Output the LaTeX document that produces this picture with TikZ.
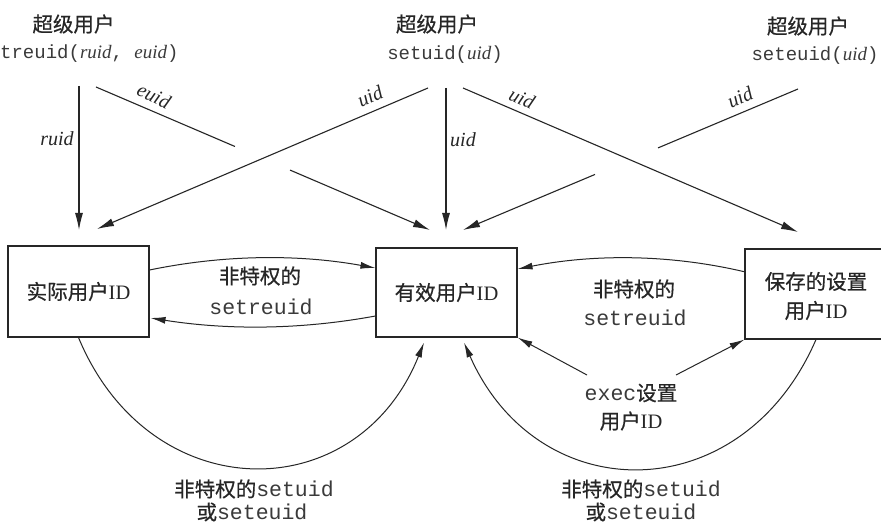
\documentclass[tikz,border=0pt]{standalone}
\usepackage{fontspec}
\setmainfont{Liberation Serif}
\setmonofont{Liberation Mono}
\newfontfamily\cjk[FakeBold=0.6]{Noto Sans CJK SC}
\usetikzlibrary{arrows.meta,calc}
\definecolor{ink}{HTML}{262626}
\definecolor{monoink}{HTML}{3a3a3a}
\newcommand\vi[1]{{\rmfamily\itshape #1}}
\newcommand\mt[1]{{\fontsize{21.5}{24}\ttfamily\color{monoink}#1}}
\begin{document}
\begin{tikzpicture}[x=1pt,y=-1pt,
  box/.style={draw=ink,line width=1.1pt,minimum width=141pt,minimum height=89pt,inner sep=0pt,
    text=ink,font=\fontsize{20.5}{24}\selectfont},
  lbl/.style={inner sep=0pt,text=ink,font=\fontsize{20.5}{24}\selectfont},
  toplbl/.style={inner sep=0pt,text=ink,font=\fontsize{20.5}{23}\selectfont},
  topcall/.style={inner sep=0pt,text=monoink,font=\fontsize{19}{23}\ttfamily},
  mono/.style={inner sep=0pt,text=monoink,font=\fontsize{21.5}{24}\ttfamily},
  ital/.style={inner sep=0pt,text=ink,font=\fontsize{20}{24}\rmfamily\itshape},
  ln/.style={draw=ink,line width=1.1pt},
  arr/.style={draw=ink,line width=1.1pt,-{Latex[length=17pt,width=8pt]}},
  carr/.style={draw=ink,line width=1pt,-{Latex[length=15pt,width=7pt]}}
]
\useasboundingbox (0,0) rectangle (881,526);
\fill[white] (0,0) rectangle (881,526);

% boxes
\node[box,minimum height=91pt] (real) at (78.5,291.5) {{\cjk 实际用户}ID};
\node[box] (eff) at (446.5,292.5) {{\cjk 有效用户}ID};
\node[box,minimum width=150pt,minimum height=90pt] (saved) at (820,294) {};
\node[lbl,align=center,font=\fontsize{20.5}{29}\selectfont] (savedtxt) at (816,296) {{\cjk 保存的设置}\\{\cjk 用户}ID};

% top labels
\node[toplbl] (su1) at (73.5,24) {\cjk 超级用户};
\node[topcall,anchor=west] (call1) at (0,54) {treuid(\vi{ruid}, \vi{euid})};
\node[toplbl] (su2) at (437,24) {\cjk 超级用户};
\node[topcall] (call2) at (445,55) {setuid(\vi{uid})};
\node[toplbl] (su3) at (808,26) {\cjk 超级用户};
\node[topcall] (call3) at (815,56) {seteuid(\vi{uid})};

% free ends of the top connectors
\coordinate (rS) at (79,86);    \coordinate (rE) at (79,230);
\coordinate (eS) at (96,87);    \coordinate (eE) at (430,230);
\coordinate (u1S) at (428,88);  \coordinate (u1E) at (97,229);
\coordinate (u2S) at (446,88);  \coordinate (u2E) at (446,230);
\coordinate (u3S) at (463,88);  \coordinate (u3E) at (798,232);
\coordinate (u4S) at (798,89);  \coordinate (u4E) at (463,230);

\draw[arr] (rS) -- (rE);
\draw[ln] (eS) -- ($(eS)!0.416!(eE)$);
\draw[arr] ($(eS)!0.581!(eE)$) -- (eE);
\draw[arr] (u1S) -- (u1E);
\draw[arr] (u2S) -- (u2E);
\draw[arr] (u3S) -- (u3E);
\draw[ln] (u4S) -- ($(u4S)!0.418!(u4E)$);
\draw[arr] ($(u4S)!0.606!(u4E)$) -- (u4E);

\node[ital] (lr) at (57,139) {ruid};
\node[ital,rotate=-25] (le) at (154,96) {euid};
\node[ital,rotate=24] (lu1) at (370,96) {uid};
\node[ital] (lu2) at (463,140) {uid};
\node[ital,rotate=-24] (lu3) at (522,98) {uid};
\node[ital,rotate=24] (lu4) at (740,97) {uid};

% curved arrows between boxes
\draw[carr] ([yshift=21.5pt]real.east) .. controls +(76,-15.7) and +(-76,-13.7) .. ([yshift=24.5pt]eff.west);
\draw[carr] ([yshift=-23.5pt]eff.west) .. controls +(-76,14) and +(76,12) .. ([xshift=1pt,yshift=-26.5pt]real.east);
\draw[carr] ([xshift=1pt,yshift=22pt]saved.west) .. controls +(-76,-18) and +(76,-15) .. ([yshift=23.5pt]eff.east);
\draw[carr] (real.south) .. controls +(71.5,172) and +(-67,167) .. ([xshift=-22.5pt,yshift=-5pt]eff.south);
\draw[carr] ([xshift=-4pt]saved.south) .. controls +(-74,171) and +(74,168) .. ([xshift=17.5pt,yshift=-5pt]eff.south);

% exec
\node[lbl] (ex1) at (631,393) {\mt{exec}{\cjk 设置}};
\node[lbl] (ex2) at (631,421) {{\cjk 用户}ID};
\coordinate (xa) at (587,375);
\coordinate (xb) at (676,375);
\draw[carr] (xa) -- (eff.south east);
\draw[carr] (xb) -- (saved.south west);

% middle labels
\node[lbl] (m1a) at (260,276) {\cjk 非特权的};
\node[mono] (m1b) at (261,307) {setreuid};
\node[lbl] (m2a) at (634,289) {\cjk 非特权的};
\node[mono] (m2b) at (635,318) {setreuid};

% bottom labels
\node[lbl] (b1a) at (254,489) {{\cjk 非特权的}\mt{setuid}};
\node[lbl] (b1b) at (252,512) {{\cjk 或}\mt{seteuid}};
\node[lbl] (b2a) at (641,489) {{\cjk 非特权的}\mt{setuid}};
\node[lbl] (b2b) at (641,512) {{\cjk 或}\mt{seteuid}};
\end{tikzpicture}
\end{document}
